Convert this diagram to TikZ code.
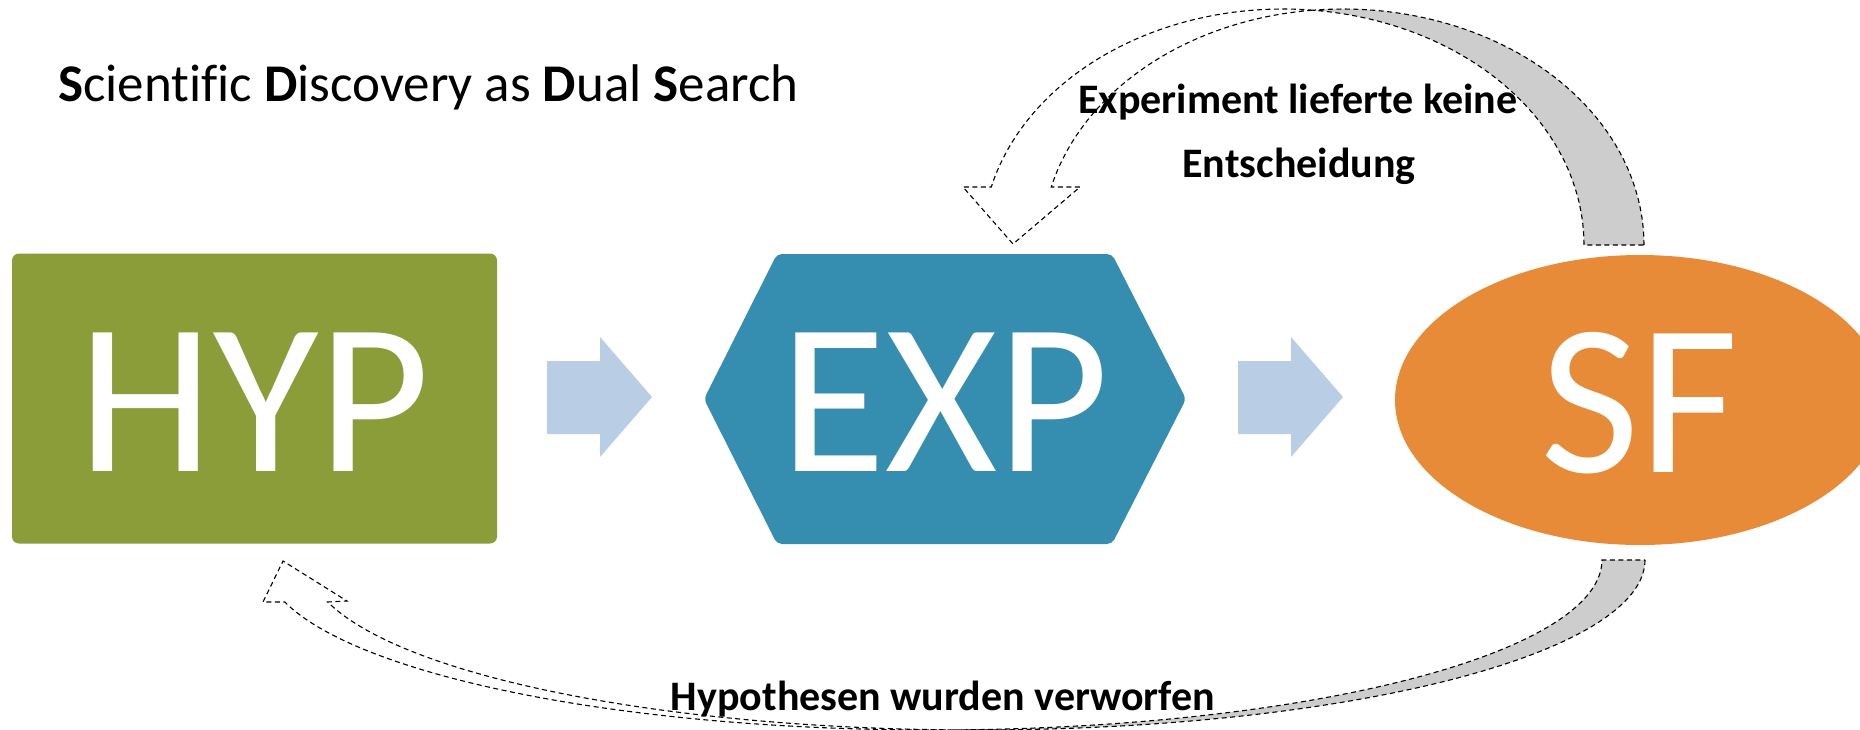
\documentclass[tikz,border=0pt]{standalone}
\usepackage{fontspec}
\setmainfont{Carlito}[Ligatures=NoCommon]
\usetikzlibrary{shapes.geometric}
\definecolor{hypgreen}{RGB}{139,157,56}
\definecolor{expblue}{RGB}{53,142,176}
\definecolor{sforange}{RGB}{232,139,57}
\definecolor{arrowblue}{RGB}{185,205,228}
\definecolor{greyband}{RGB}{205,205,205}
\begin{document}
\begin{tikzpicture}[x=1pt,y=-1pt,
  bigtext/.style={text=white, font=\fontsize{216}{216}\selectfont, text height=145pt, text depth=0pt},
  dashline/.style={draw=black, line width=1.1pt, dash pattern=on 5pt off 3.5pt},
  lbl/.style={font=\fontsize{42}{42}\selectfont\bfseries, inner sep=0pt, anchor=base}]
\useasboundingbox (0,0) rectangle (1860,729);
\clip (0,0) rectangle (1860,729);

% title
\node[anchor=base west, inner sep=0pt, font=\fontsize{53}{53}\selectfont] (title) at (58,101)
  {\textbf{S}cientific \textbf{D}iscovery as \textbf{D}ual \textbf{S}earch};

% HYP
\node[bigtext, fill=hypgreen, rounded corners=7pt, minimum width=485pt, minimum height=290pt, inner sep=0pt] (hyp) at (254.5,398.5) {HYP};

% EXP hexagon
\fill[expblue, rounded corners=5pt] (945,254) -- (1112,254) -- (1186,399) -- (1112,544) -- (777,544) -- (704,399) -- (777,254) -- cycle;
\node[bigtext, inner sep=0pt] (expn) at (945,399) {EXP};

% SF ellipse
\node[bigtext, ellipse, fill=sforange, minimum width=490pt, minimum height=290pt, inner sep=0pt] (sf) at (1640,400) {SF};

% straight block arrows
\fill[arrowblue] (547,361) -- (600,361) -- (600,337) -- (652,397) -- (600,457) -- (600,434) -- (547,434) -- cycle;
\fill[arrowblue] (1238,361) -- (1291,361) -- (1291,337) -- (1343,397) -- (1291,457) -- (1291,434) -- (1238,434) -- cycle;

% top curved arrow (SF -> EXP)
\draw[dashline, fill=white]
  plot[domain=84.3:165.77, samples=60, variable=\t] ({1283+301*cos(\t)},{245-236*sin(\t)})
  -- (963,187) -- (1013,244) -- (1080,187)
  -- plot[domain=165.77:95.7, samples=60, variable=\t] ({1343+301*cos(\t)},{245-236*sin(\t)})
  -- cycle;
\draw[dashline, fill=greyband]
  plot[domain=0:95.7, samples=50, variable=\t] ({1343+301*cos(\t)},{245-236*sin(\t)})
  -- plot[domain=84.3:0, samples=50, variable=\t] ({1283+301*cos(\t)},{245-236*sin(\t)})
  -- cycle;

% bottom curved arrow (SF -> HYP)
\draw[dashline, fill=white]
  plot[domain=88.16:165.7, samples=80, variable=\t] ({933+669*cos(\t)},{560+170*sin(\t)})
  -- (263,602) -- (283,561) -- (347,601)
  -- plot[domain=165.7:91.84, samples=80, variable=\t] ({976+669*cos(\t)},{560+170*sin(\t)})
  -- cycle;
\draw[dashline, fill=greyband]
  plot[domain=0:91.84, samples=80, variable=\t] ({976+669*cos(\t)},{560+170*sin(\t)})
  -- plot[domain=88.16:0, samples=80, variable=\t] ({933+669*cos(\t)},{560+170*sin(\t)})
  -- cycle;

% labels
\node[lbl] (lbltopa) at (1298,113) {Experiment lieferte keine};
\node[lbl] (lbltopb) at (1299,177) {Entscheidung};
\node[lbl] (lblbot) at (943,710) {Hypothesen wurden verworfen};
\end{tikzpicture}
\end{document}
